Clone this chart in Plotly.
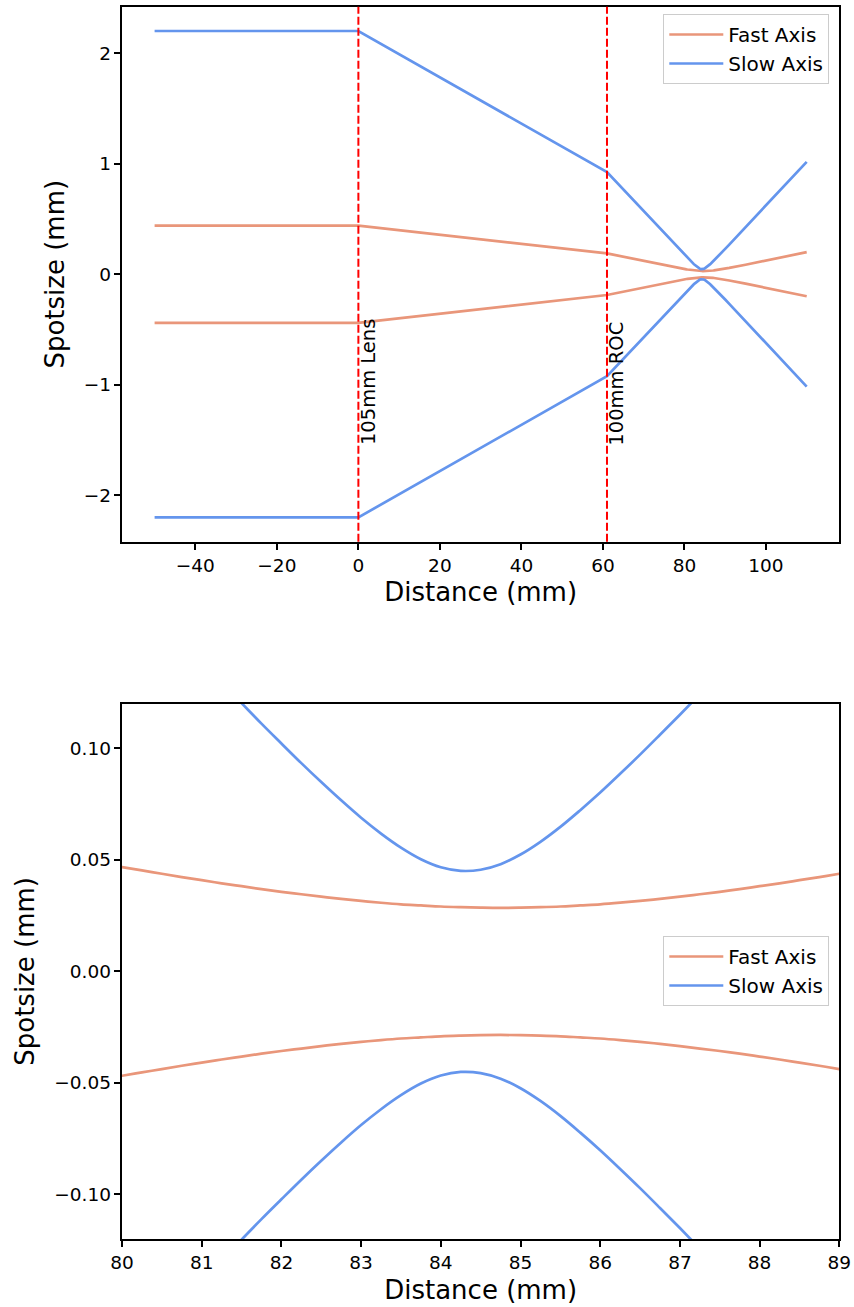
import plotly.graph_objects as go

# Distance along the beam (mm)
distance = [-50, 0, 61, 65, 70, 75, 78, 79,
            80, 80.25, 80.5, 80.75, 81, 81.25, 81.5, 81.75,
            82, 82.25, 82.5, 82.75, 83, 83.25, 83.5, 83.75,
            84, 84.25, 84.5, 84.75, 85, 85.25, 85.5, 85.75,
            86, 86.25, 86.5, 86.75, 87, 87.25, 87.5, 87.75,
            88, 88.25, 88.5, 88.75, 89,
            90, 91, 95, 100, 105, 110]

# Beam radius, fast axis (mm)
fast_axis = [0.44, 0.44, 0.1879, 0.1570, 0.1188, 0.0814, 0.0600, 0.0532,
             0.0468, 0.0453, 0.0438, 0.0423, 0.0409, 0.0395, 0.0382, 0.0369,
             0.0357, 0.0346, 0.0335, 0.0325, 0.0316, 0.0308, 0.0301, 0.0296,
             0.0291, 0.0288, 0.0286, 0.0285, 0.0286, 0.0288, 0.0291, 0.0296,
             0.0301, 0.0308, 0.0316, 0.0325, 0.0335, 0.0346, 0.0357, 0.0369,
             0.0382, 0.0395, 0.0409, 0.0423, 0.0438,
             0.0500, 0.0566, 0.0851, 0.1226, 0.1609, 0.1995]

# Beam radius, slow axis (mm)
slow_axis = [2.2, 2.2, 0.9232, 0.7653, 0.5680, 0.3713, 0.2540, 0.2151,
             0.1767, 0.1671, 0.1576, 0.1482, 0.1388, 0.1295, 0.1203, 0.1111,
             0.1022, 0.0934, 0.0849, 0.0767, 0.0689, 0.0618, 0.0555, 0.0503,
             0.0467, 0.0451, 0.0456, 0.0481, 0.0524, 0.0581, 0.0648, 0.0723,
             0.0802, 0.0886, 0.0972, 0.1061, 0.1151, 0.1243, 0.1336, 0.1429,
             0.1523, 0.1618, 0.1713, 0.1809, 0.1905,
             0.2291, 0.2680, 0.4247, 0.6217, 0.8190, 1.0165]

series_names = ["Fast Axis", "Slow Axis"]
series_colors = ["#E9967A", "#6495ED"]

# Optical elements
element_positions = [0, 61]
element_labels = ["105mm Lens", "100mm ROC"]

FONT = "DejaVu Sans"
W, H = 854, 1307

fig = go.Figure()

for axis_suffix, legend_name, shape in [("", "legend", "linear"), ("2", "legend2", "spline")]:
    for name, color, values in zip(series_names, series_colors, [fast_axis, slow_axis]):
        for sign, show in [(1, True), (-1, False)]:
            fig.add_trace(go.Scatter(
                x=distance,
                y=[sign * v for v in values],
                mode="lines",
                line=dict(color=color, width=2.7, shape=shape, smoothing=1),
                name=name,
                legendgroup=name + axis_suffix,
                showlegend=show,
                legend=legend_name,
                xaxis="x" + axis_suffix,
                yaxis="y" + axis_suffix,
                hoverinfo="x+y+name",
            ))

# dashed element markers on top plot
for pos, lab in zip(element_positions, element_labels):
    fig.add_shape(type="line", xref="x", yref="y domain", x0=pos, x1=pos, y0=0, y1=1,
                  line=dict(color="red", width=2, dash="8px,3px"))
    fig.add_annotation(x=pos, y=-1.565, xref="x", yref="y", text=lab, textangle=-90,
                       showarrow=False, xanchor="left", yanchor="bottom",
                       xshift=-4, font=dict(family=FONT, size=19.5, color="black"))

axis_common = dict(showline=True, linewidth=1.5, linecolor="black", mirror=True,
                   ticks="outside", ticklen=6.5, tickwidth=1.5, tickcolor="black",
                   showgrid=False, zeroline=False, automargin=False,
                   tickfont=dict(family=FONT, size=18.5, color="black"))
title_font = dict(family=FONT, size=26, color="black")

top_dom = [1 - 541.7 / H, 1 - 6.7 / H]
bot_dom = [1 - 1239 / H, 1 - 703.8 / H]
x_dom = [122 / W, 839.3 / W]

legend_common = dict(xanchor="right", yanchor="top",
                     bgcolor="rgba(255,255,255,0.8)", bordercolor="#cccccc", borderwidth=1,
                     font=dict(family=FONT, size=20, color="black"), tracegroupgap=0,
                     itemwidth=54)

fig.update_layout(
    width=W, height=H,
    margin=dict(l=0, r=0, t=0, b=0, autoexpand=False),
    paper_bgcolor="white", plot_bgcolor="white",
    font=dict(family=FONT, color="black"),
    xaxis=dict(domain=x_dom, anchor="y", range=[-58, 118], dtick=20, tick0=0,
               title=dict(text="Distance (mm)", font=title_font, standoff=8), **axis_common),
    yaxis=dict(domain=top_dom, anchor="x", range=[-2.42, 2.42], dtick=1, tick0=0,
               ticklabelstandoff=-1,
               title=dict(text="Spotsize (mm)", font=title_font, standoff=12), **axis_common),
    xaxis2=dict(domain=x_dom, anchor="y2", range=[80, 89], dtick=1, tick0=80,
                title=dict(text="Distance (mm)", font=title_font, standoff=8), **axis_common),
    yaxis2=dict(domain=bot_dom, anchor="x2", range=[-0.12, 0.12], dtick=0.05, tick0=0,
                tickformat=".2f", ticklabelstandoff=-1,
                title=dict(text="Spotsize (mm)", font=title_font, standoff=12), **axis_common),
    legend=dict(x=829.3 / W, y=1 - 14 / H, **legend_common),
    legend2=dict(x=829.3 / W, y=1 - 936 / H, **legend_common),
    showlegend=True,
)

fig.write_html("out.html",
               config={"displayModeBar": False},
               post_script="document.body.style.margin='0';document.body.style.overflow='hidden';")
